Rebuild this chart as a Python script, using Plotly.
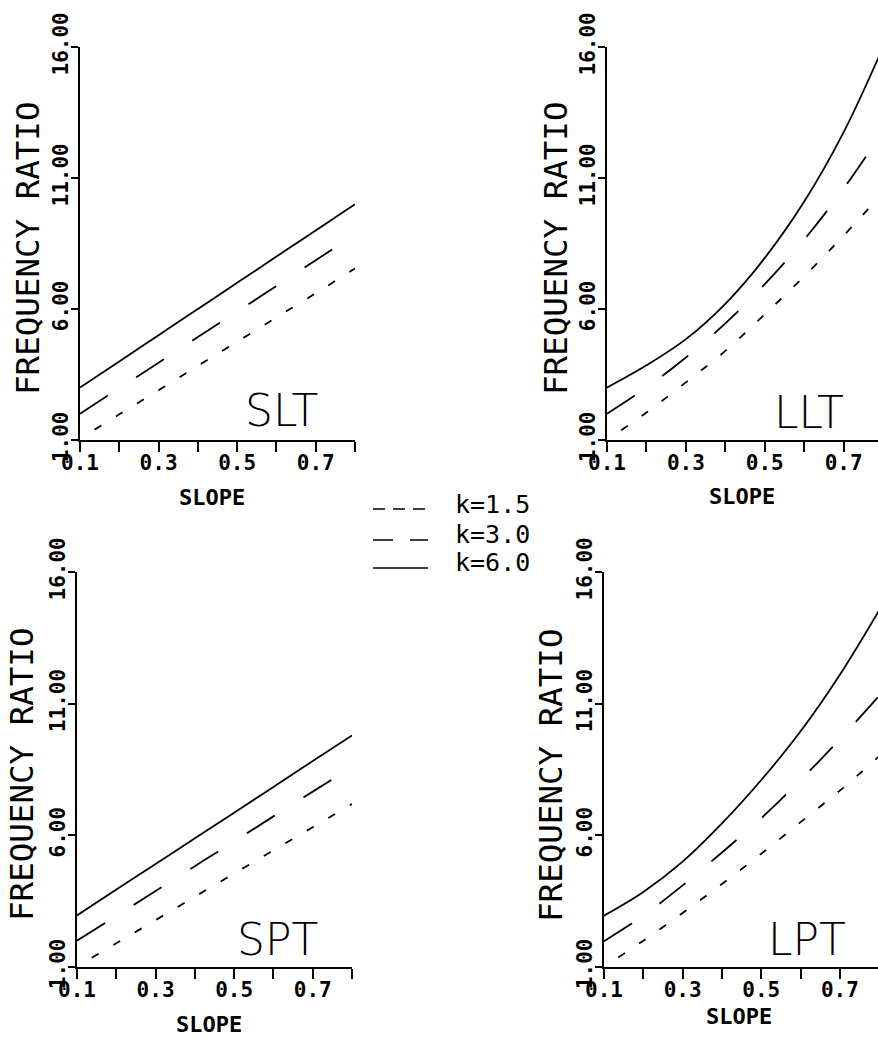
import plotly.graph_objects as go

W, H = 878, 1038

# ---------------- data ----------------
slope = [0.1, 0.2, 0.3, 0.4, 0.5, 0.6, 0.7, 0.8]
k_labels = ["k=1.5", "k=3.0", "k=6.0"]
panel_names = ["SLT", "LLT", "SPT", "LPT"]

slt_k15 = [1.05, 1.98, 2.90, 3.83, 4.75, 5.68, 6.60, 7.55]
slt_k30 = [2.00, 2.98, 3.95, 4.93, 5.90, 6.88, 7.86, 8.85]
slt_k60 = [3.00, 4.00, 5.00, 6.00, 7.00, 8.00, 9.00, 10.00]

llt_k15 = [1.00, 2.05, 3.20, 4.40, 5.80, 7.25, 8.80, 10.45]
llt_k30 = [2.00, 3.00, 4.15, 5.45, 6.95, 8.65, 10.60, 12.80]
llt_k60 = [3.00, 3.85, 4.85, 6.20, 7.95, 10.10, 12.75, 16.00]

spt_k15 = [1.02, 1.90, 2.78, 3.67, 4.55, 5.43, 6.31, 7.19]
spt_k30 = [2.00, 2.94, 3.89, 4.83, 5.77, 6.72, 7.66, 8.60]
spt_k60 = [2.96, 3.94, 4.91, 5.89, 6.86, 7.84, 8.82, 9.79]

lpt_k15 = [1.00, 2.00, 3.05, 4.15, 5.30, 6.50, 7.70, 9.00]
lpt_k30 = [1.98, 2.95, 4.10, 5.35, 6.65, 8.10, 9.65, 11.30]
lpt_k60 = [2.95, 3.85, 5.00, 6.45, 8.10, 9.95, 12.10, 14.55]

y_tickvals = [1, 6, 11, 16]
y_ticktext = ["1.00", "6.00", "11.00", "16.00"]
x_tickvals = [0.1, 0.2, 0.3, 0.4, 0.5, 0.6, 0.7, 0.8]
x_ticktext = ["0.1", "", "0.3", "", "0.5", "", "0.7", ""]
y_title = "FREQUENCY RATIO"
x_title = "SLOPE"

# ---------------- styling ----------------
def px_x(p):
    return p / W

def px_y(p):
    return 1 - p / H

dashes = ["0px,17px,8px,0px", "33px,34px", "solid"]
LW = 1.8

panels = [
    # name, data, x-domain px, y-domain px (top,bottom), x range max
    ("SLT", [slt_k15, slt_k30, slt_k60], (80, 355), (47, 440), 0.8),
    ("LLT", [llt_k15, llt_k30, llt_k60], (607, 878), (47, 440), 0.787),
    ("SPT", [spt_k15, spt_k30, spt_k60], (77, 352), (572, 967), 0.8),
    ("LPT", [lpt_k15, lpt_k30, lpt_k60], (604, 878), (572, 967), 0.797),
]

fig = go.Figure()
mono = "DejaVu Sans Mono"

layout = dict(
    template="none",
    width=W, height=H,
    margin=dict(l=0, r=0, t=0, b=0, pad=0),
    paper_bgcolor="white", plot_bgcolor="white",
    showlegend=False,
)

for i, (name, series, (x0, x1), (yt, yb), xmax) in enumerate(panels):
    n = "" if i == 0 else str(i + 1)
    for s, d in zip(series, dashes):
        fig.add_trace(go.Scatter(
            x=slope, y=s, mode="lines",
            line=dict(color="black", width=LW, dash=d, shape="spline", smoothing=1.0),
            xaxis="x" + n, yaxis="y" + n, hoverinfo="skip",
        ))
    layout["xaxis" + n] = dict(
        domain=[px_x(x0), min(1.0, px_x(x1))], range=[0.1, xmax], anchor="y" + n,
        automargin=False,
        showline=True, linecolor="black", linewidth=2,
        ticks="outside", ticklen=10, tickwidth=1.5, tickcolor="black",
        tickvals=x_tickvals, ticktext=x_ticktext, ticklabelstandoff=-7,
        tickfont=dict(family=mono, size=21, color="black", weight="bold"),
        showgrid=False, zeroline=False, fixedrange=True,
    )
    layout["yaxis" + n] = dict(
        domain=[px_y(yb), px_y(yt)], range=[1, 16], anchor="x" + n,
        automargin=False,
        showline=True, linecolor="black", linewidth=2,
        ticks="outside", ticklen=7, tickwidth=1.5, tickcolor="black",
        tickvals=y_tickvals, ticktext=y_ticktext, tickangle=-90,
        ticklabelstandoff=-5,
        tickfont=dict(family=mono, size=21, color="black", weight="bold"),
        showgrid=False, zeroline=False, fixedrange=True,
    )

annotations = []
# y titles
for (cx, cy) in [(28, 248), (556, 248), (22, 774), (551, 775)]:
    annotations.append(dict(
        text=y_title, x=px_x(cx), y=px_y(cy), xref="paper", yref="paper",
        xanchor="center", yanchor="middle", textangle=-90, showarrow=False,
        font=dict(family=mono, size=32.5, color="black"),
    ))
# x titles
for (cx, cy) in [(212, 498), (742, 496), (209, 1024), (739, 1016)]:
    annotations.append(dict(
        text=x_title, x=px_x(cx), y=px_y(cy), xref="paper", yref="paper",
        xanchor="center", yanchor="middle", showarrow=False,
        font=dict(family=mono, size=22, color="black", weight="bold"),
    ))
# panel labels
for name, (cx, cy) in zip(panel_names, [(281, 411), (809, 412), (277, 939), (807, 939)]):
    annotations.append(dict(
        text=name, x=px_x(cx), y=px_y(cy), xref="paper", yref="paper",
        xanchor="center", yanchor="middle", showarrow=False,
        font=dict(family="DejaVu Sans", size=44, color="black", weight=200),
    ))
# legend
legend_rows = [(504, 509, "12px,8px"), (534, 540, "20px,17px"), (562, 568, "solid")]
shapes = []
for lab, (ty, ly, d) in zip(k_labels, legend_rows):
    annotations.append(dict(
        text=lab, x=px_x(453), y=px_y(ty), xref="paper", yref="paper",
        xanchor="left", yanchor="middle", showarrow=False,
        font=dict(family=mono, size=25, color="black"),
    ))
    shapes.append(dict(
        type="line", xref="paper", yref="paper",
        x0=px_x(373), x1=px_x(428), y0=px_y(ly), y1=px_y(ly),
        line=dict(color="black", width=1.6, dash=d),
    ))

layout["annotations"] = annotations
layout["shapes"] = shapes
fig.update_layout(**layout)
fig.write_html("out.html")
